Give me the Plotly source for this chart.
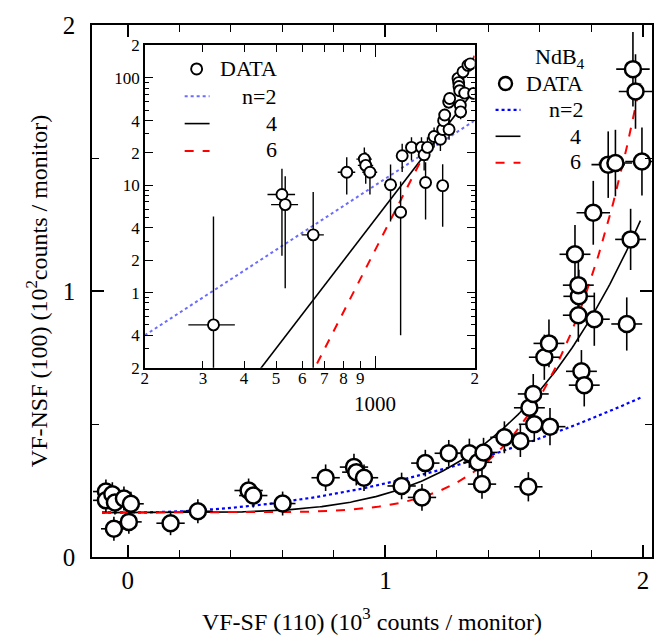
import numpy as np
import plotly.graph_objects as go

# ---- Main panel: NdB4, VF-NSF (100) vs VF-SF (110) ----
main_x = [-0.085, -0.085, -0.060, -0.050, -0.015, 0.012, -0.054, 0.004,
          0.166, 0.272, 0.469, 0.487, 0.601, 0.768, 0.878, 0.887, 0.917,
          1.063, 1.142, 1.155, 1.246, 1.326, 1.359, 1.375, 1.381, 1.462,
          1.524, 1.555, 1.559, 1.574, 1.578, 1.639, 1.617, 1.635, 1.761,
          1.772, 1.749, 1.811, 1.751, 1.749, 1.736, 1.937, 1.952, 1.807,
          1.865, 1.893, 1.996, 1.961, 1.971]
main_y = [0.246, 0.213, 0.236, 0.205, 0.220, 0.200, 0.106, 0.132,
          0.127, 0.172, 0.250, 0.231, 0.201, 0.298, 0.338, 0.319, 0.298,
          0.267, 0.224, 0.353, 0.390, 0.390, 0.356, 0.274, 0.393, 0.450,
          0.436, 0.264, 0.561, 0.613, 0.499, 0.490, 0.751, 0.803, 0.698,
          0.646, 0.909, 0.894, 0.980, 1.022, 1.138, 0.876, 1.194, 1.294,
          1.475, 1.481, 1.487, 1.834, 1.750]
main_ex = [0.05, 0.05, 0.05, 0.05, 0.05, 0.05, 0.05, 0.05,
           0.055, 0.058, 0.055, 0.055, 0.05, 0.055, 0.055, 0.055, 0.055,
           0.055, 0.055, 0.055, 0.055, 0.055, 0.055, 0.055, 0.055, 0.055,
           0.055, 0.055, 0.06, 0.06, 0.06, 0.06, 0.06, 0.06, 0.06,
           0.06, 0.06, 0.06, 0.06, 0.06, 0.06, 0.06, 0.06, 0.065,
           0.065, 0.065, 0.065, 0.065, 0.065]
main_ey = [0.045, 0.045, 0.045, 0.045, 0.045, 0.045, 0.045, 0.045,
           0.045, 0.045, 0.045, 0.045, 0.045, 0.05, 0.05, 0.05, 0.05,
           0.05, 0.05, 0.05, 0.05, 0.055, 0.055, 0.055, 0.055, 0.06,
           0.06, 0.055, 0.07, 0.075, 0.065, 0.07, 0.085, 0.09, 0.08,
           0.08, 0.10, 0.10, 0.10, 0.11, 0.11, 0.10, 0.115, 0.12,
           0.125, 0.125, 0.128, 0.14, 0.14]

# power-law fits  y = bg + c * x^n
fit_bg = 0.167
fit_n = [2, 4, 6]
fit_c = [0.109, 0.0700, 0.026]
fit_xmax = 1.99

# ---- Inset: log-log view ----
ins_x = [323, 521, 533, 648, 819, 926, 935, 963, 1112, 1193, 1206, 1287,
         1380, 1406, 1420, 1439, 1507, 1575, 1600, 1600, 1611, 1623, 1673,
         1669, 1680, 1781, 1789, 1793, 1802, 1810, 1814, 1844, 1866, 1909,
         1941, 1986]
ins_y = [0.50, 8.2, 6.6, 3.45, 13.2, 17.5, 15.3, 13.2, 10.1, 5.6, 18.8, 22.5,
         22.5, 19.2, 10.6, 22.5, 28.4, 26.8, 9.9, 33.0, 39.9, 45.0, 33.0,
         59.4, 64.2, 98.8, 90.3, 83.0, 75.9, 55.4, 48.2, 113.7, 72.1, 130.7,
         135.0, 71.6]
ins_ex = [52, 50, 50, 50, 50, 50, 50, 50, 50, 50, 50, 50,
          50, 50, 50, 50, 55, 55, 55, 55, 55, 55, 55,
          55, 55, 60, 60, 60, 60, 60, 60, 60, 60, 65,
          65, 65]
ins_ey = [4.6, 6.0, 5.5, 5.2, 5.0, 5.0, 5.0, 5.0, 5.5, 5.2, 5.5, 5.5,
          5.5, 5.5, 5.8, 5.5, 6.0, 6.0, 5.8, 6.0, 6.5, 6.5, 6.5,
          7.5, 7.5, 10.0, 9.5, 9.0, 8.5, 7.5, 7.0, 12.0, 8.5, 13.0,
          13.5, 8.5]
ins_amp = [1.0e-5, 4.83e-12, 2.51e-18]   # y = A * x^n
ins_xtick = [200, 300, 400, 500, 600, 700, 800, 900, 2000]
ins_xtext = ["2", "3", "4", "5", "6", "7", "8", "9", "2"]
ins_ytick = [0.2, 0.4, 1, 2, 4, 10, 20, 40, 100, 200]
ins_ytext = ["2", "4", "1", "2", "4", "10", "2", "4", "100", "2"]

SERIF = "Liberation Serif"
main_styles = [dict(color="#0000ff", dash="dot", width=2.2),
               dict(color="black", dash="solid", width=1.6),
               dict(color="#ff0000", dash="dash", width=2)]
ins_styles = [dict(color="#6b6bff", dash="dot", width=2),
              dict(color="black", dash="solid", width=1.6),
              dict(color="#ff0000", dash="dash", width=2)]

fig = go.Figure()

# main fit curves
xf = np.linspace(-0.1, fit_xmax, 300)
for n, c, st in zip(fit_n, fit_c, main_styles):
    fig.add_trace(go.Scatter(x=xf, y=fit_bg + c * xf ** n, mode="lines",
                             line=st, showlegend=False, hoverinfo="skip"))

# main data
fig.add_trace(go.Scatter(
    x=main_x, y=main_y, mode="markers", showlegend=False,
    marker=dict(symbol="circle", size=16, color="white",
                line=dict(color="black", width=2.5)),
    error_x=dict(type="data", array=main_ex, color="black", thickness=1.6, width=0),
    error_y=dict(type="data", array=main_ey, color="black", thickness=1.6, width=0)))

# inset fit curves
xi = np.logspace(np.log10(200), np.log10(2000), 200)
for n, a, st in zip(fit_n, ins_amp, ins_styles):
    fig.add_trace(go.Scatter(x=xi, y=a * xi ** n, mode="lines", line=st,
                             xaxis="x2", yaxis="y2", showlegend=False,
                             hoverinfo="skip"))

# inset data
fig.add_trace(go.Scatter(
    x=ins_x, y=ins_y, mode="markers", xaxis="x2", yaxis="y2", showlegend=False,
    marker=dict(symbol="circle", size=11, color="white",
                line=dict(color="black", width=1.9)),
    error_x=dict(type="data", array=ins_ex, color="black", thickness=1.4, width=0),
    error_y=dict(type="data", array=ins_ey, color="black", thickness=1.4, width=0)))

# frame geometry (pixels) used for the hand-drawn legends
L, R, T, B = 92, 654, 12, 557
def px(x):
    return (x - L) / (R - L)
def py(y):
    return (B - y) / (B - T)

shapes = []
annotations = []

def legend_line(x0, x1, y, st):
    shapes.append(dict(type="line", xref="paper", yref="paper",
                       x0=px(x0), x1=px(x1), y0=py(y), y1=py(y),
                       line=dict(color=st["color"], dash=st["dash"],
                                 width=st["width"])))

def legend_circle(x, y, r, w):
    shapes.append(dict(type="circle", xref="paper", yref="paper",
                       xsizemode="pixel", ysizemode="pixel",
                       xanchor=px(x), yanchor=py(y),
                       x0=-r, x1=r, y0=-r, y1=r,
                       line=dict(color="black", width=w), fillcolor="white"))

def text(x, y, s, size, xanchor="center"):
    annotations.append(dict(xref="paper", yref="paper", x=px(x), y=py(y),
                            text=s, showarrow=False, xanchor=xanchor,
                            yanchor="middle",
                            font=dict(family=SERIF, size=size, color="black")))

# main legend (top right)
text(589, 46, "NdB<sub>4</sub>", 22, "right")
legend_circle(507, 72, 6.5, 2.4)
text(587, 72, "DATA", 22, "right")
legend_line(497, 522, 99, main_styles[0])
text(587, 99, "n=2", 22, "right")
legend_line(497, 522, 126, main_styles[1])
text(585, 126, "4", 22, "right")
legend_line(497, 522, 153, main_styles[2])
text(585, 152, "6", 22, "right")

# inset legend (top left)
legend_circle(197, 57, 5.5, 1.9)
text(218, 57, "DATA", 22, "left")
legend_line(185, 210, 85, ins_styles[0])
text(279, 85, "n=2", 22, "right")
legend_line(185, 210, 113, ins_styles[1])
text(272, 113, "4", 22, "center")
legend_line(185, 210, 141, ins_styles[2])
text(272, 140, "6", 22, "center")

# "1000" label of the inset x axis, set lower than the digit labels
text(376, 400, "1000", 21, "center")

axis_common = dict(showline=True, linecolor="black", linewidth=1.5,
                   mirror="ticks", ticks="inside", tickcolor="black",
                   showgrid=False, zeroline=False)

fig.update_layout(
    width=668, height=644,
    margin=dict(l=L, r=668 - R, t=T, b=644 - B),
    paper_bgcolor="white", plot_bgcolor="white",
    font=dict(family=SERIF, color="black"),
    shapes=shapes, annotations=annotations,
    xaxis=dict(**axis_common, range=[-0.139, 2.035],
               tickvals=[0, 1, 2], ticklen=12, tickwidth=1.5,
               tickfont=dict(size=25),
               minor=dict(tickvals=[0.2, 0.4, 0.6, 0.8, 1.2, 1.4, 1.6, 1.8],
                          ticks="inside", ticklen=7, tickwidth=1.3,
                          tickcolor="black"),
               title=dict(text="VF-SF (110) (10<sup>3</sup> counts / monitor)",
                          font=dict(size=24), standoff=20)),
    yaxis=dict(**axis_common, range=[0, 2],
               tickvals=[0, 1, 2], ticklen=12, tickwidth=1.5,
               tickfont=dict(size=25), ticklabelstandoff=10,
               minor=dict(tickvals=[0.5, 1.5], ticks="inside", ticklen=7,
                          tickwidth=1.3, tickcolor="black"),
               title=dict(text="VF-NSF (100) (10<sup>2</sup>counts / monitor)",
                          font=dict(size=24), standoff=8)),
    xaxis2=dict(**axis_common, type="log", anchor="y2",
                domain=[px(145), px(476)],
                range=[np.log10(200), np.log10(2000)],
                tickvals=ins_xtick, ticktext=ins_xtext, ticklen=7,
                tickwidth=1.3, tickfont=dict(size=17), ticklabelstandoff=-6,
                minor=dict(tickvals=[1000], ticks="inside", ticklen=12,
                           tickwidth=1.3, tickcolor="black")),
    yaxis2=dict(**axis_common, type="log", anchor="x2",
                domain=[py(363), py(33)],
                range=[np.log10(0.2), np.log10(200)],
                tickvals=ins_ytick, ticktext=ins_ytext, ticklen=8,
                tickwidth=1.3, tickfont=dict(size=17),
                minor=dict(dtick="D1", ticks="inside", ticklen=4,
                           tickwidth=1, tickcolor="black")),
)

fig.write_html("out.html")
